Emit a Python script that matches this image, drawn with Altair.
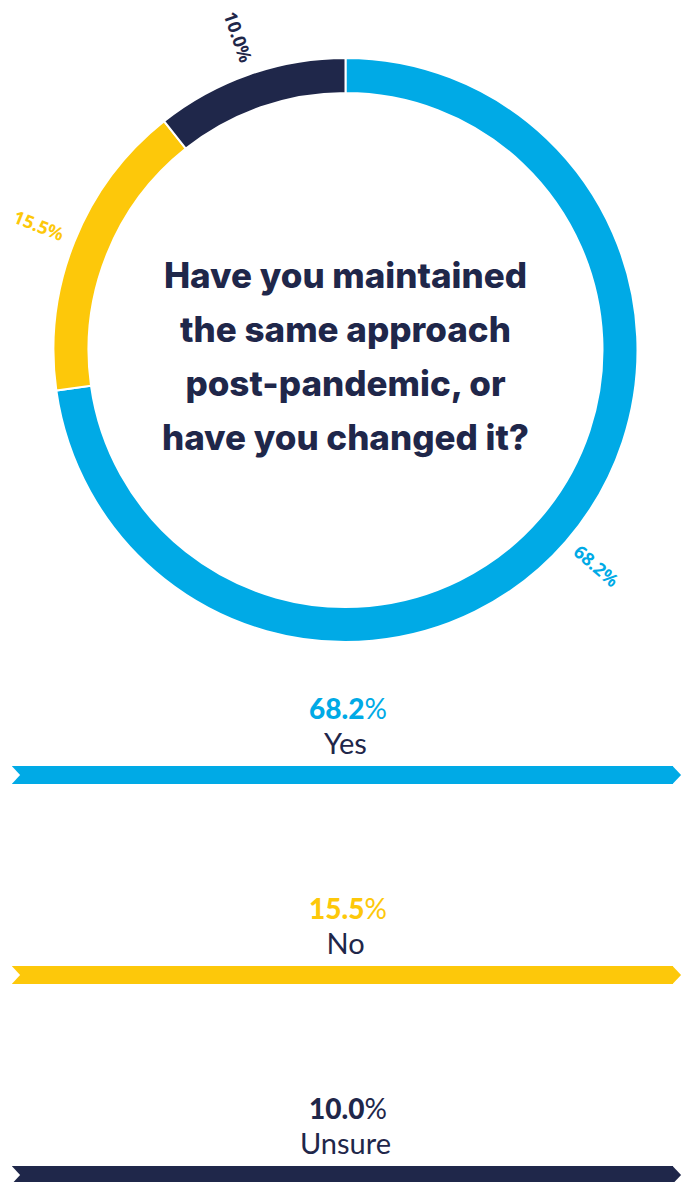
import altair as alt
import pandas as pd

# ---- data ----
responses = ["Yes", "No", "Unsure"]
shares = [68.2, 15.5, 10.0]
order_idx = [0, 1, 2]
colors = ["#00AAE6", "#FDC80A", "#1F274A"]
title_lines = ["Have you maintained", "the same approach", "post-pandemic, or", "have you changed it?"]

NAVY = "#1F274A"
CX, CY = 345.5, 350

df = pd.DataFrame({"response": responses, "share": shares, "idx": order_idx})

color_enc = alt.Color("response:N", scale=alt.Scale(domain=responses, range=colors), legend=None)
theta_enc = alt.Theta("share:Q", stack=True)
order_enc = alt.Order("idx:Q")

base = alt.Chart(df)

ring = base.mark_arc(radius=292, radius2=257, stroke="white", strokeWidth=2).encode(
    theta=theta_enc, color=color_enc, order=order_enc,
    x=alt.value(CX), y=alt.value(CY),
)

ring_labels = (
    base.transform_joinaggregate(total="sum(share)")
    .transform_window(cum="sum(share)", sort=[alt.SortField("idx")])
    .transform_calculate(
        mid="(datum.cum - datum.share / 2) / datum.total * 360",
        rot="datum.mid < 180 ? datum.mid - 90 : datum.mid - 270",
        lab="format(datum.share, '.1f') + '%'",
    )
    .mark_text(radius=331, font="Noto Sans", fontWeight="bold", fontStyle="normal", fontSize=18,
               baseline="middle", align="center")
    .encode(
        theta=theta_enc, color=color_enc, order=order_enc,
        text="lab:N",
        angle=alt.Angle("rot:Q", scale=None),
        x=alt.value(CX), y=alt.value(CY),
    )
)

center_title = alt.Chart(alt.Data(values=[{"t": 1}])).mark_text(
    text=title_lines, font="Inter", fontWeight=800, fontSize=35,
    lineHeight=54, color=NAVY, align="center", baseline="alphabetic",
).encode(x=alt.value(CX), y=alt.value(288))

yscale = alt.Scale(type="point", domain=responses, range=[775, 1175], padding=0)
xscale = alt.Scale(domain=[0, 100], range=[12, 673])

track = base.mark_rule(strokeWidth=18, strokeCap="butt").encode(
    x=alt.datum(0, scale=xscale), x2=alt.datum(100),
    y=alt.Y("response:N", scale=yscale, axis=None),
    color=color_enc,
)

tip = base.mark_point(shape="M-0.05,-1 L0.9,0 L-0.05,1 Z", filled=True, size=324,
                      opacity=1, strokeWidth=0).encode(
    x=alt.datum(100, scale=xscale),
    y=alt.Y("response:N", scale=yscale, axis=None),
    color=color_enc,
)

notch = base.mark_point(shape="M-0.1,-1.08 L0.9,0 L-0.1,1.08 Z", filled=True, size=324,
                        opacity=1, strokeWidth=0, color="white").encode(
    x=alt.datum(0, scale=xscale),
    y=alt.Y("response:N", scale=yscale, axis=None),
)

num_text = base.transform_calculate(num="format(datum.share, '.1f')").mark_text(
    font="Lato", fontWeight=900, fontSize=28, align="right", baseline="middle", dx=19, dy=-64,
).encode(
    x=alt.value(CX), y=alt.Y("response:N", scale=yscale, axis=None),
    text="num:N", color=color_enc,
)

pct_text = base.transform_calculate(p="'%'").mark_text(
    font="Lato", fontWeight="normal", fontSize=28, align="left", baseline="middle", dx=19, dy=-64,
).encode(
    x=alt.value(CX), y=alt.Y("response:N", scale=yscale, axis=None),
    text="p:N", color=color_enc,
)

cat_text = base.mark_text(
    font="Lato", fontSize=29, align="center", baseline="middle", dy=-30, color=NAVY,
).encode(
    x=alt.value(CX), y=alt.Y("response:N", scale=yscale, axis=None),
    text="response:N",
)

chart = alt.layer(
    ring, ring_labels, center_title, track, tip, notch, num_text, pct_text, cat_text
).properties(
    width=689, height=1182, padding=0, autosize=alt.AutoSizeParams(type="none"),
    background="white",
).configure_view(stroke=None)

chart.save("out.html", embed_options={"renderer": "svg", "actions": False})
